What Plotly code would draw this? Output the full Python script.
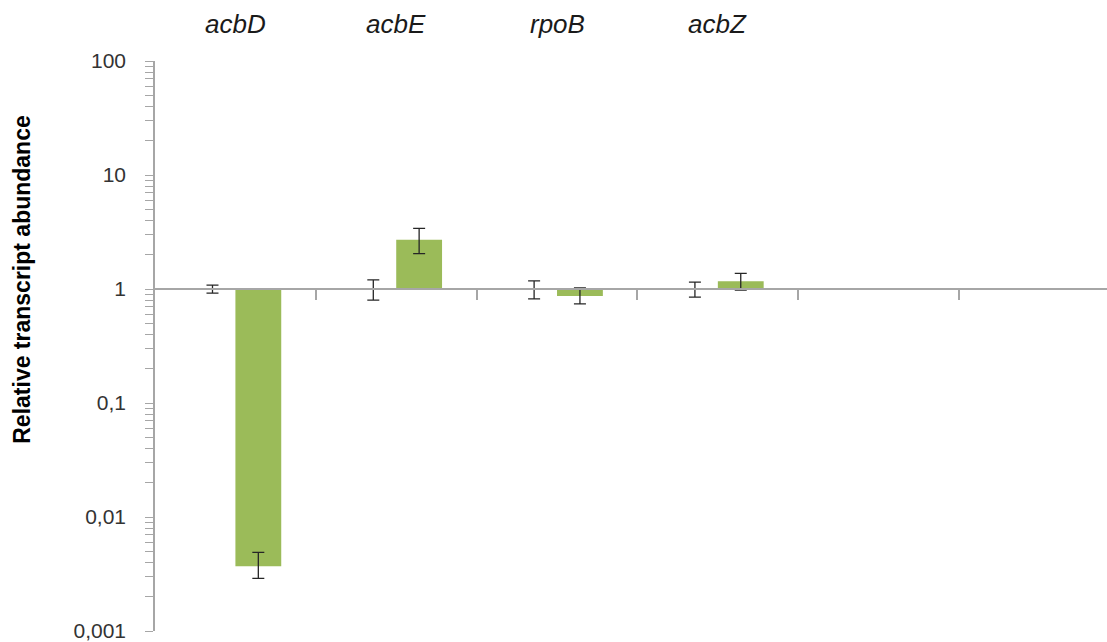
import plotly.graph_objects as go

# Genes and relative transcript abundance (control normalised to 1)
genes = ["acbD", "acbE", "rpoB", "acbZ", "", ""]
control = [1, 1, 1, 1, None, None]
control_err_up = [0.08, 0.2, 0.18, 0.15, None, None]
control_err_down = [0.08, 0.2, 0.18, 0.15, None, None]
mutant = [0.0037, 2.7, 0.87, 1.17, None, None]
mutant_err_up = [0.0012, 0.7, 0.15, 0.2, None, None]
mutant_err_down = [0.0008, 0.66, 0.13, 0.19, None, None]

y_tick_vals = [0.001, 0.01, 0.1, 1, 10, 100]
y_tick_text = ["0,001", "0,01", "0,1", "1", "10", "100"]

BASE = 1.0
xs = list(range(len(genes)))


def heights(values):
    # bars are drawn from the baseline at 1 to each value
    return [None if v is None else v - BASE for v in values]


err_style = dict(type="data", symmetric=False, color="#262626", thickness=1.3, width=6)

fig = go.Figure()
fig.add_trace(go.Bar(
    x=xs, y=heights(control), base=BASE, name="control",
    marker=dict(color="rgba(0,0,0,0)", line=dict(width=0)),
    error_y=dict(array=control_err_up, arrayminus=control_err_down, **err_style),
    showlegend=False,
))
fig.add_trace(go.Bar(
    x=xs, y=heights(mutant), base=BASE, name="mutant",
    marker=dict(color="#9bbb59", line=dict(width=0)),
    error_y=dict(array=mutant_err_up, arrayminus=mutant_err_down, **err_style),
    showlegend=False,
))

minor_vals = [m * 10 ** e for e in range(-3, 2) for m in range(2, 10)]
axis_grey = "#a6a6a6"

fig.update_layout(
    width=1107, height=642,
    margin=dict(l=155, r=0, t=61, b=11),
    paper_bgcolor="white", plot_bgcolor="white",
    barmode="group", bargap=0.43, bargroupgap=0,
    font=dict(family="Liberation Sans, Arial, sans-serif", color="#262626"),
    xaxis=dict(
        range=[-0.5, 5.42], anchor="free", position=0.6,
        showline=True, linecolor=axis_grey, linewidth=1.5,
        tickmode="array", tickvals=[i + 0.5 for i in xs],
        ticks="outside", ticklen=10, tickcolor=axis_grey, tickwidth=1.5,
        showticklabels=False, showgrid=False, zeroline=False,
    ),
    yaxis=dict(
        type="log", range=[-3, 2],
        showline=True, linecolor=axis_grey, linewidth=1.5,
        tickmode="array", tickvals=y_tick_vals, ticktext=y_tick_text,
        ticks="outside", ticklen=8, tickcolor=axis_grey, tickwidth=1.2,
        ticklabelstandoff=15, ticklabeloverflow="allow",
        tickfont=dict(size=21, color="#333333"),
        minor=dict(tickmode="array", tickvals=minor_vals, ticks="outside",
                   ticklen=8, tickcolor=axis_grey, tickwidth=1, showgrid=False),
        showgrid=False, zeroline=False,
    ),
)

# gene names above each category
for i, g in enumerate(genes):
    if g:
        fig.add_annotation(
            x=i, xref="x", y=1, yref="paper", yanchor="bottom", yshift=20,
            text=f"<i>{g}</i>", showarrow=False,
            font=dict(size=26, color="#1a1a1a"),
        )

fig.add_annotation(
    x=-0.14, xref="paper", xanchor="center", y=0.6175, yref="paper", yanchor="middle",
    text="<b>Relative transcript abundance</b>", textangle=-90, showarrow=False,
    font=dict(size=23, color="#000000"),
)

fig.write_html("out.html")
